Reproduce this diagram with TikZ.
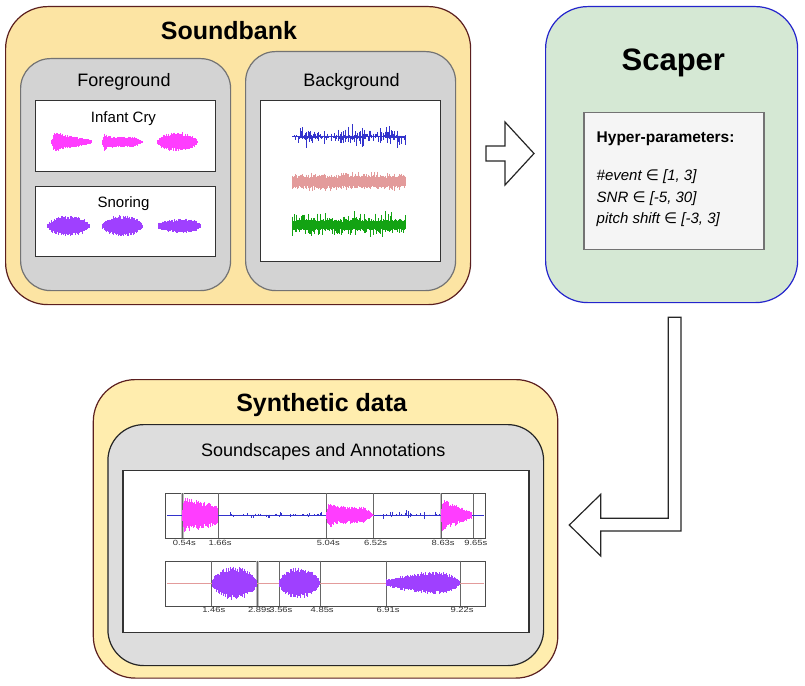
\documentclass[tikz,border=0pt]{standalone}
\usepackage{fontspec}
\setmainfont{Liberation Sans}
\newfontfamily\symfont{DejaVu Sans}
\definecolor{boxline}{HTML}{5B1F1F}
\definecolor{bankfill}{HTML}{FCE4A3}
\definecolor{synthfill}{HTML}{FFEDAE}
\definecolor{scaperfill}{HTML}{D5E8D4}
\definecolor{scaperline}{HTML}{2424CC}
\definecolor{panelgray}{HTML}{D3D3D3}
\definecolor{scapegray}{HTML}{DDDDDD}
\definecolor{hyperfill}{HTML}{F5F5F5}
\definecolor{crycol}{HTML}{FF3DFF}
\definecolor{snorecol}{HTML}{9F40FF}
\definecolor{bgblue}{HTML}{3333CC}
\definecolor{bgpink}{HTML}{E39B9B}
\definecolor{bggreen}{HTML}{13A313}
\newcommand{\wave}[6]{%
  \pgfmathtruncatemacro{\wn}{(#3-#2)/0.7}%
  \foreach \wi in {0,...,\wn}{%
    \pgfmathsetmacro{\wt}{\wi/\wn}%
    \pgfmathsetmacro{\wx}{#2+0.7*\wi}%
    \pgfmathsetmacro{\wa}{#5*(#6)*(0.65+0.35*rnd)}%
    \pgfmathsetmacro{\wb}{#5*(#6)*(0.65+0.35*rnd)}%
    \draw[#1, line width=0.9pt] (\wx,#4-\wa) -- (\wx,#4+\wb);}}
\newcommand{\stamptext}[1]{\scalebox{1.25}[1]{#1s}}
\begin{document}
\begin{tikzpicture}[x=1pt,y=-1pt]
  \tikzset{bigbox/.style = {draw=boxline, line width=1.2pt, rounded corners=42pt, anchor=north west, inner sep=0pt}}
  \tikzset{panel/.style = {draw=black!55, fill=panelgray, line width=1.2pt, rounded corners=30pt, anchor=north west, inner sep=0pt}}
  \tikzset{card/.style = {draw=black!80, fill=white, line width=1.2pt, anchor=north west, inner sep=0pt}}
  \tikzset{heading/.style = {font=\fontsize{25}{30}\selectfont\bfseries, anchor=base, inner sep=0pt}}
  \tikzset{caption/.style = {font=\fontsize{18}{22}\selectfont, anchor=base, inner sep=0pt}}
  \tikzset{small/.style = {font=\fontsize{15}{18}\selectfont, anchor=base, inner sep=0pt}}
  \tikzset{param/.style = {font=\fontsize{15}{18}\selectfont\itshape, anchor=base west, inner sep=0pt}}
  \tikzset{stamp/.style = {font=\fontsize{7.5}{9}\selectfont, text=black!80, anchor=base, inner sep=0pt}}
  \tikzset{cut/.style = {draw=black!60, line width=0.8pt}}
  \tikzset{blockarrow/.style = {draw=black!85, fill=white, line width=1.2pt}}
  \pgfmathsetseed{11}
  \useasboundingbox (0,0) rectangle (805,685);

  \node[bigbox, fill=bankfill, minimum width=465, minimum height=298] (bank) at (5,6) {};
  \node[heading] (banktitle) at (229,40) {Soundbank};
  \node[panel, minimum width=210, minimum height=232] (fg) at (20,58) {};
  \node[panel, minimum width=210, minimum height=239] (bg) at (245,51) {};
  \node[caption] (fgtitle) at (124,86) {Foreground};
  \node[caption] (bgtitle) at (351.5,86) {Background};
  \node[card, minimum width=180.5, minimum height=71] (cry) at (34.5,100) {};
  \node[card, minimum width=180.5, minimum height=70.5] (snore) at (34.5,185.5) {};
  \node[card, minimum width=180.5, minimum height=160.5] (bgcard) at (259.5,100) {};
  \node[small] (crytitle) at (123.5,122.7) {Infant Cry};
  \node[small] (snoretitle) at (123.5,207.3) {Snoring};

  \wave{crycol}{51}{92}{142}{11}{min(1,\wt/0.08)*(1-0.8*\wt)}
  \wave{crycol}{102}{143}{142}{11}{min(1,\wt/0.05)*(0.5+0.5*exp(-10*\wt))*min(1,(1-\wt)/0.25+0.15)}
  \wave{crycol}{157}{198}{142}{10}{sqrt(max(sin(180*\wt),0.02))}
  \wave{snorecol}{47}{90}{226}{10.5}{sqrt(max(sin(180*\wt),0.02))}
  \wave{snorecol}{102}{143}{226}{11}{sqrt(max(sin(180*\wt),0.02))}
  \wave{snorecol}{158}{201}{226}{10}{(0.5+0.5*\wt)*sqrt(max(sin(180*(0.15+0.85*\wt)),0.02))}

  \draw[bgblue, line width=0.8pt] (292,136.7) -- (406,136.7);
  \wave{bgblue}{292}{406}{136.7}{15}{(0.08+0.92*rnd^4)*(0.3+0.7*abs(sin(500*\wt)))}
  \wave{bgpink}{292}{406}{181.7}{10}{0.6+0.4*rnd^3}
  \wave{bggreen}{292}{406}{225}{15}{0.35+0.65*rnd^5}

  \node[bigbox, fill=scaperfill, draw=scaperline, minimum width=252, minimum height=296] (scaper) at (545,6) {};
  \node[heading, font=\fontsize{31}{36}\selectfont\bfseries] (scapertitle) at (673.3,70.7) {Scaper};
  \node[card, fill=hyperfill, draw=black!55, minimum width=180, minimum height=137.5] (hyper) at (583.3,111.7) {};
  \node[small, anchor=base west, font=\fontsize{15.5}{18}\selectfont\bfseries] (hypertitle) at (596.5,142) {Hyper-parameters:};
  \node[param] (events) at (596.5,180.5) {\#event {\symfont\upshape ∈} [1, 3]};
  \node[param] (snr) at (596.5,202) {SNR {\symfont\upshape ∈} [-5, 30]};
  \node[param] (pitch) at (596.5,223.5) {pitch shift {\symfont\upshape ∈} [-3, 3]};

  \draw[blockarrow] (486,146) -- (505,146) -- (505,122) -- (534,153.5) -- (505,185) -- (505,161) -- (486,161) -- cycle;
  \draw[blockarrow] (668.3,317.3) -- (681,317.3) -- (681,531) -- (600.7,531) -- (600.7,556) -- (569.3,525) -- (600.7,494.3) -- (600.7,518.3) -- (668.3,518.3) -- cycle;

  \node[bigbox, fill=synthfill, minimum width=464.5, minimum height=298.5] (synth) at (92.7,379) {};
  \node[heading] (synthtitle) at (321.7,411.7) {Synthetic data};
  \node[panel, fill=scapegray, draw=black!85, rounded corners=36pt, minimum width=435.7, minimum height=241] (scapes) at (107.3,424) {};
  \node[caption] (scapestitle) at (323.3,456) {Soundscapes and Annotations};
  \node[card, minimum width=406, minimum height=161.7] (annot) at (122.3,470) {};

  \node[draw=black!70, line width=1pt, anchor=north west, inner sep=0pt, minimum width=320, minimum height=44.5] (wav1) at (165,493.3) {};
  \node[draw=black!70, line width=1pt, anchor=north west, inner sep=0pt, minimum width=320, minimum height=45] (wav2) at (165,560.7) {};
  \foreach \s in {0.54,8.63}
    \draw[black!25, line width=2.5pt] (165+32*\s,493.3) -- (165+32*\s,537.8);
  \draw[black!25, line width=2.5pt] (165+32*2.89,560.7) -- (165+32*2.89,605.7);
  \foreach \s in {0.54,1.66,5.04,6.52,8.63,9.65}{
    \draw[cut] (165+32*\s,493.3) -- (165+32*\s,537.8);
    \node[stamp] (s\s) at (167+32*\s,545.5) {\stamptext{\s}};}
  \foreach \s in {1.46,2.89,3.56,4.85,6.91,9.22}{
    \draw[cut] (165+32*\s,560.7) -- (165+32*\s,605.7);
    \node[stamp] (t\s) at (167+32*\s,612.5) {\stamptext{\s}};}

  \draw[bgblue, line width=1pt] (167,515) -- (484,515);
  \wave{bgblue}{230}{322}{515}{4}{rnd^8}
  \wave{bgblue}{376}{440}{515}{5}{rnd^8}
  \wave{crycol}{182}{218}{515}{17}{min(1,\wt/0.05)*(1-0.45*\wt*\wt)}
  \wave{crycol}{326}{374}{515}{17}{min(1,\wt/0.05)*(0.5+0.5*exp(-8*\wt))*min(1,(1-\wt)/0.2+0.05)}
  \wave{crycol}{441}{472}{515}{17}{min(1,\wt/0.04)*(1-0.8*\wt)}

  \draw[bgpink, line width=1pt] (167,583) -- (484,583);
  \wave{snorecol}{212}{257}{583}{17}{sqrt(max(sin(180*\wt),0.02))}
  \wave{snorecol}{279}{320}{583}{16}{sqrt(max(sin(180*\wt),0.02))}
  \wave{snorecol}{386}{460}{583}{17}{(0.3+0.7*\wt)*sqrt(max(sin(180*(0.15+0.85*\wt)),0.02))}
\end{tikzpicture}
\end{document}
